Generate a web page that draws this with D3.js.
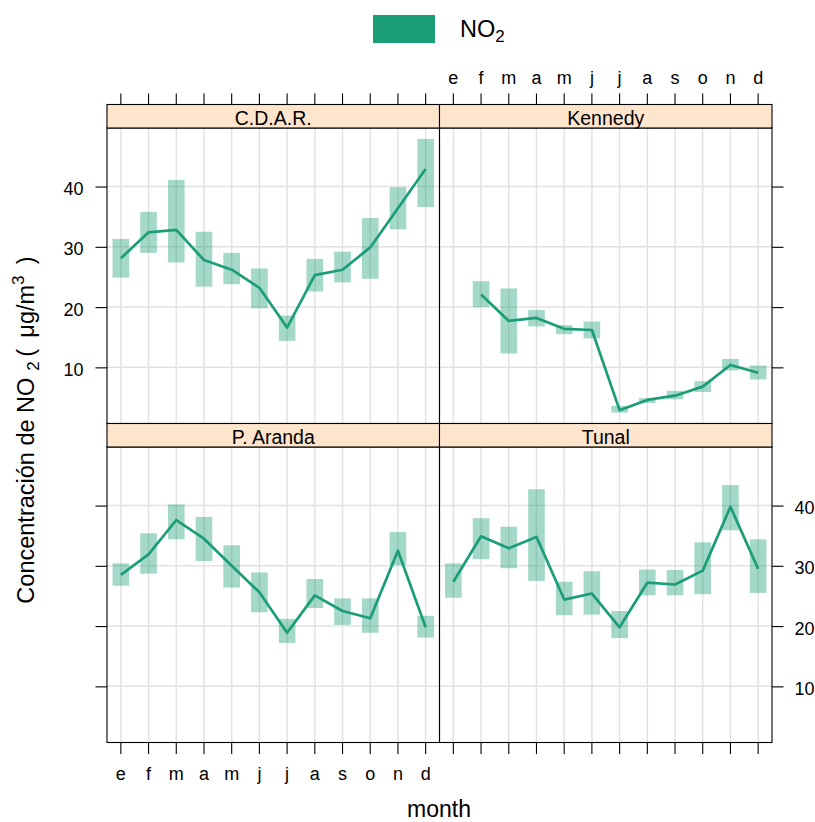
<!DOCTYPE html>
<html>
<head>
<meta charset="utf-8">
<script src="https://cdn.jsdelivr.net/npm/d3@7"></script>
<style>
  html, body { margin: 0; padding: 0; background: #fff; }
  svg { display: block; font-family: "Liberation Sans", Arial, sans-serif; }
</style>
</head>
<body>
<svg id="chart" width="815" height="822"></svg>
<script>
// ---------------- data ----------------
const months = ["e","f","m","a","m","j","j","a","s","o","n","d"];
const sites = ["C.D.A.R.","Kennedy","P. Aranda","Tunal"];
const yTicks = [10, 20, 30, 40];
const seriesName = "NO2";

const cdarMean = [28.1,32.4,32.8,27.8,26.2,23.2,16.6,25.3,26.2,29.9,36.4,42.9];
const cdarLow  = [24.9,29.0,27.4,23.4,23.8,19.8,14.4,22.6,24.1,24.7,32.9,36.6];
const cdarHigh = [31.3,35.8,41.1,32.5,29.0,26.4,18.6,28.0,29.2,34.8,39.9,47.9];

const kenMean = [null,22.1,17.7,18.2,16.4,16.2,2.9,4.6,5.3,6.8,10.4,9.1];
const kenLow  = [null,20.0,12.3,16.8,15.5,14.8,2.5,4.1,4.7,5.9,9.5,8.0];
const kenHigh = [null,24.3,23.1,19.5,17.0,17.6,3.6,4.9,6.1,7.7,11.4,10.3];

const arandaMean = [28.5,31.9,37.6,34.5,30.0,25.6,18.9,25.1,22.5,21.3,32.5,19.8];
const arandaLow  = [26.7,28.7,34.4,30.8,26.4,22.3,17.2,23.0,20.2,18.9,30.1,18.1];
const arandaHigh = [30.4,35.4,40.2,38.1,33.4,28.9,21.2,27.8,24.6,24.6,35.6,21.7];

const tunalMean = [27.35,34.9,32.9,34.8,24.4,25.4,19.8,27.2,26.9,29.2,39.8,29.5];
const tunalLow  = [24.7,31.1,29.6,27.5,21.8,21.9,18.0,25.1,25.1,25.3,35.9,25.5];
const tunalHigh = [30.4,37.9,36.5,42.7,27.35,29.1,22.5,29.4,29.3,33.9,43.4,34.4];

const siteData = [
  {mean: cdarMean, low: cdarLow, high: cdarHigh},
  {mean: kenMean, low: kenLow, high: kenHigh},
  {mean: arandaMean, low: arandaLow, high: arandaHigh},
  {mean: tunalMean, low: tunalLow, high: tunalHigh}
];

// ---------------- layout ----------------
const col = "#1b9e77";
const stripFill = "#ffe5cc";
const gridCol = "#e2e2e2";
const pw = 332.5, ph = 295.5, stripH = 23.5;
const colX = [107, 439.5];
const rowStripY = [104.5, 423.5];

const svg = d3.select("#chart");

const allVals = [].concat(...siteData.map(s => s.low.concat(s.high))).filter(v => v != null);
const [vmin, vmax] = d3.extent(allVals);
const pad = (vmax - vmin) * 0.04;

const x = d3.scaleBand().domain(d3.range(months.length)).range([0, pw]);
const y = d3.scaleLinear().domain([vmin - pad, vmax + pad]).range([ph, 0]);
const xc = i => x(i) + x.bandwidth() / 2;
const barW = x.bandwidth() * 0.6;

const tickFont = 18;

sites.forEach((name, k) => {
  const c = k % 2, r = Math.floor(k / 2);
  const px = colX[c], sy = rowStripY[r], py = sy + stripH;
  const d = siteData[k];
  const g = svg.append("g").attr("transform", `translate(${px},${py})`);

  // grid
  g.selectAll(".vg").data(d3.range(months.length)).join("line")
    .attr("x1", i => xc(i)).attr("x2", i => xc(i))
    .attr("y1", 0).attr("y2", ph)
    .attr("stroke", gridCol).attr("stroke-width", 1.5);
  g.selectAll(".hg").data(yTicks).join("line")
    .attr("x1", 0).attr("x2", pw)
    .attr("y1", v => y(v)).attr("y2", v => y(v))
    .attr("stroke", gridCol).attr("stroke-width", 1.5);

  // bars
  const idx = d3.range(months.length).filter(i => d.mean[i] != null);
  g.selectAll(".bar").data(idx).join("rect")
    .attr("x", i => xc(i) - barW / 2)
    .attr("width", barW)
    .attr("y", i => y(d.high[i]))
    .attr("height", i => y(d.low[i]) - y(d.high[i]))
    .attr("fill", col).attr("fill-opacity", 0.4);

  // line
  const line = d3.line()
    .defined(i => d.mean[i] != null)
    .x(i => xc(i)).y(i => y(d.mean[i]));
  g.append("path").datum(d3.range(months.length))
    .attr("d", line).attr("fill", "none")
    .attr("stroke", col).attr("stroke-width", 2.7)
    .attr("stroke-linejoin", "round");

  // panel border
  g.append("rect").attr("x", 0).attr("y", 0).attr("width", pw).attr("height", ph)
    .attr("fill", "none").attr("stroke", "#000").attr("stroke-width", 1.1);

  // strip
  const s = svg.append("g").attr("transform", `translate(${px},${sy})`);
  s.append("rect").attr("width", pw).attr("height", stripH)
    .attr("fill", stripFill).attr("stroke", "#000").attr("stroke-width", 1.1);
  s.append("text").attr("x", pw / 2).attr("y", stripH - 3.5)
    .attr("text-anchor", "middle").attr("font-size", 19.5).attr("fill", "#000")
    .text(name);

  // axes (lattice-style alternating labels)
  const styleAxis = (ax) => {
    ax.select(".domain").remove();
    ax.selectAll(".tick line").attr("stroke", "#000").attr("stroke-width", 1.1);
    ax.selectAll(".tick text").attr("font-size", tickFont).attr("fill", "#000")
      .attr("font-family", '"Liberation Sans", Arial, sans-serif');
  };
  if (c === 0) {
    const ax = svg.append("g").attr("transform", `translate(${px},${py})`)
      .call(d3.axisLeft(y).tickValues(yTicks).tickSize(11.5).tickPadding(12)
        .tickFormat(r === 0 ? d3.format("d") : () => ""));
    styleAxis(ax);
    ax.selectAll(".tick text").attr("dy", "0.45em");
  } else {
    const ax = svg.append("g").attr("transform", `translate(${px + pw},${py})`)
      .call(d3.axisRight(y).tickValues(yTicks).tickSize(11.5).tickPadding(11)
        .tickFormat(r === 1 ? d3.format("d") : () => ""));
    styleAxis(ax);
    ax.selectAll(".tick text").attr("dy", "0.45em");
  }
  if (r === 0) {
    const ax = svg.append("g").attr("transform", `translate(${px},${sy})`)
      .call(d3.axisTop(x).tickSize(11).tickPadding(10)
        .tickFormat(c === 1 ? (i => months[i]) : () => ""));
    styleAxis(ax);
  } else {
    const ax = svg.append("g").attr("transform", `translate(${px},${py + ph})`)
      .call(d3.axisBottom(x).tickSize(11.5).tickPadding(10)
        .tickFormat(c === 0 ? (i => months[i]) : () => ""));
    styleAxis(ax);
    ax.selectAll(".tick text").attr("dy", "0.9em");
  }
});

// legend
const leg = svg.append("g");
leg.append("rect").attr("x", 373).attr("y", 15).attr("width", 62).attr("height", 28)
  .attr("fill", col);
const lt = leg.append("text").attr("x", 460).attr("y", 36.5).attr("font-size", 23.5).attr("fill", "#000");
lt.append("tspan").text("NO");
lt.append("tspan").attr("font-size", 17).attr("dy", 5).text("2");

// x title
svg.append("text").attr("x", 439).attr("y", 817).attr("text-anchor", "middle")
  .attr("font-size", 23).attr("fill", "#000").text("month");

// y title
const yt = svg.append("text")
  .attr("transform", "translate(34,430) rotate(-90)")
  .attr("text-anchor", "middle").attr("font-size", 23.5).attr("fill", "#000");
yt.append("tspan").text("Concentración de NO");
yt.append("tspan").attr("font-size", 17).attr("dy", 5).text("\u2009\u20092");
yt.append("tspan").attr("dy", -5).text("\u2009( \u2009μg/m");
yt.append("tspan").attr("font-size", 17).attr("dy", -10).text("3");
yt.append("tspan").attr("dy", 10).text(" \u2009)");
</script>
</body>
</html>
